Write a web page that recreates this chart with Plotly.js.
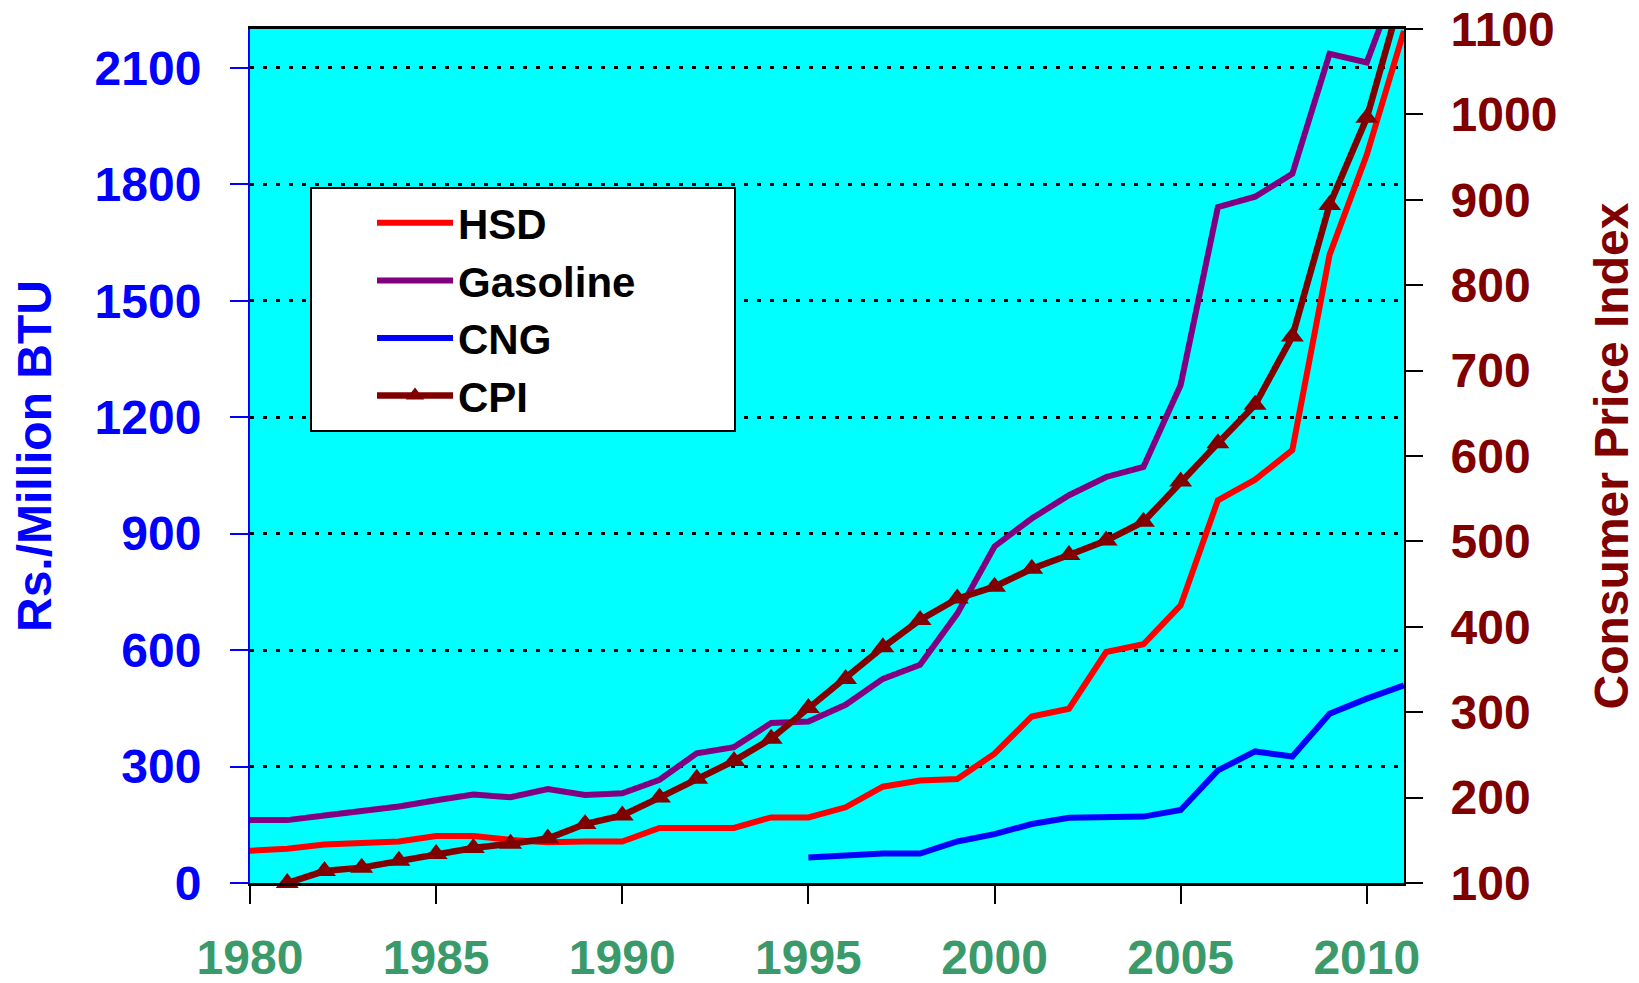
<!DOCTYPE html>
<html>
<head>
<meta charset="utf-8">
<script src="https://cdn.plot.ly/plotly-3.0.1.min.js"></script>
<style>
  html, body { margin: 0; padding: 0; background: #ffffff; }
  #chart { width: 1639px; height: 983px; }
</style>
</head>
<body>
<div id="chart"></div>
<script>
// ---- data ----
const years = [1980, 1981, 1982, 1983, 1984, 1985, 1986, 1987, 1988, 1989,
               1990, 1991, 1992, 1993, 1994, 1995, 1996, 1997, 1998, 1999,
               2000, 2001, 2002, 2003, 2004, 2005, 2006, 2007, 2008, 2009,
               2010, 2011];

const hsd = [83, 88, 99, 103, 107, 121, 121, 111, 105, 107,
             107, 142, 142, 142, 169, 169, 195, 248, 264, 268,
             333, 429, 449, 595, 615, 715, 986, 1039, 1115, 1618,
             1876, 2195];

const gasoline = [162, 162, 174, 186, 197, 213, 228, 221, 242, 227,
                  231, 266, 334, 350, 412, 416, 459, 526, 562, 694,
                  867, 939, 999, 1046, 1072, 1283, 1741, 1768, 1827, 2136,
                  2114, 2370];

const cngYears = [1995, 1996, 1997, 1998, 1999, 2000, 2001, 2002, 2003,
                  2004, 2005, 2006, 2007, 2008, 2009, 2010, 2011];
const cng = [66, 70, 76, 76, 107, 126, 152, 168, 171,
             171, 188, 290, 339, 326, 436, 475, 509];

const cpiYears = [1981, 1982, 1983, 1984, 1985, 1986, 1987, 1988, 1989, 1990,
                  1991, 1992, 1993, 1994, 1995, 1996, 1997, 1998, 1999, 2000,
                  2001, 2002, 2003, 2004, 2005, 2006, 2007, 2008, 2009, 2010,
                  2011];
const cpi = [100, 114, 118, 126, 134, 141, 146, 152, 169, 179,
             200, 222, 243, 269, 305, 339, 376, 408, 433, 447,
             468, 484, 501, 523, 570, 615, 660, 740, 894, 996,
             1150];

const seriesNames = ['HSD', 'Gasoline', 'CNG', 'CPI'];
const leftTitle = 'Rs./Million BTU';
const rightTitle = 'Consumer Price Index';

// ---- styling ----
const FONT = 'Liberation Sans, Arial, Helvetica, sans-serif';
const MAROON = '#800000';
const NBSP = '\u00a0';
const PAD_RIGHT = NBSP.repeat(8);   // widens the legend box on the right
const PAD_LEFT = NBSP.repeat(4);    // blank legend title = left padding

const traces = [
  { x: years, y: hsd, name: seriesNames[0], type: 'scatter', mode: 'lines',
    line: { color: '#ff0000', width: 6 }, yaxis: 'y' },
  { x: years, y: gasoline, name: seriesNames[1] + PAD_RIGHT, type: 'scatter', mode: 'lines',
    line: { color: '#800080', width: 6 }, yaxis: 'y' },
  { x: cngYears, y: cng, name: seriesNames[2], type: 'scatter', mode: 'lines',
    line: { color: '#0000ff', width: 6 }, yaxis: 'y' },
  { x: cpiYears, y: cpi, name: seriesNames[3], type: 'scatter', mode: 'lines+markers',
    line: { color: MAROON, width: 6.5 },
    marker: { symbol: 'triangle-up', size: 20, color: MAROON },
    cliponaxis: false, yaxis: 'y2' }
];

const layout = {
  width: 1639,
  height: 983,
  margin: { l: 250, r: 235, t: 29, b: 100 },
  paper_bgcolor: '#ffffff',
  plot_bgcolor: '#00ffff',
  showlegend: true,
  legend: {
    x: 0.052, xanchor: 'left',
    y: 0.815, yanchor: 'top',
    bgcolor: '#ffffff',
    bordercolor: '#000000',
    borderwidth: 2,
    font: { family: FONT, size: 42, color: '#000000', weight: 'bold' },
    itemwidth: 76,
    title: { text: PAD_LEFT, side: 'left',
             font: { family: FONT, size: 45, color: '#000000' } }
  },
  xaxis: {
    range: [1980, 2011],
    tick0: 1980,
    dtick: 5,
    ticks: 'outside',
    ticklen: 18,
    tickwidth: 2,
    tickcolor: '#000000',
    showline: true,
    linecolor: '#000000',
    linewidth: 3,
    mirror: true,
    showgrid: false,
    zeroline: false,
    tickfont: { family: FONT, size: 48, color: '#3a9a6a', weight: 'bold' },
    ticklabelstandoff: 12
  },
  yaxis: {
    range: [0, 2200],
    tick0: 0,
    dtick: 300,
    ticks: 'outside',
    ticklen: 18,
    tickwidth: 2,
    tickcolor: '#0000ff',
    showline: true,
    linecolor: '#0000ff',
    linewidth: 2,
    showgrid: true,
    gridcolor: '#000000',
    gridwidth: 3,
    griddash: '4px,9px',
    zeroline: false,
    tickfont: { family: FONT, size: 48, color: '#0000ff', weight: 'bold' },
    ticklabelstandoff: 19,
    title: { text: leftTitle, standoff: 28,
             font: { family: FONT, size: 48, color: '#0000ff', weight: 'bold' } }
  },
  yaxis2: {
    overlaying: 'y',
    side: 'right',
    range: [100, 1100],
    tick0: 100,
    dtick: 100,
    ticks: 'outside',
    ticklen: 17,
    tickwidth: 2,
    tickcolor: '#000000',
    showline: true,
    linecolor: '#000000',
    linewidth: 2,
    showgrid: false,
    zeroline: false,
    tickfont: { family: FONT, size: 48, color: MAROON, weight: 'bold' },
    ticklabelstandoff: 18,
    title: { text: rightTitle, standoff: 38,
             font: { family: FONT, size: 48, color: MAROON, weight: 'bold' } }
  },
  yaxis3: {
    overlaying: 'y',
    side: 'right',
    range: [100, 1100],
    tick0: 100,
    dtick: 100,
    ticks: 'inside',
    ticklen: 18,
    tickwidth: 2,
    tickcolor: '#000000',
    showticklabels: false,
    showline: false,
    showgrid: false,
    zeroline: false
  }
};

Plotly.newPlot('chart', traces, layout, { displayModeBar: false, staticPlot: true });
</script>
</body>
</html>
